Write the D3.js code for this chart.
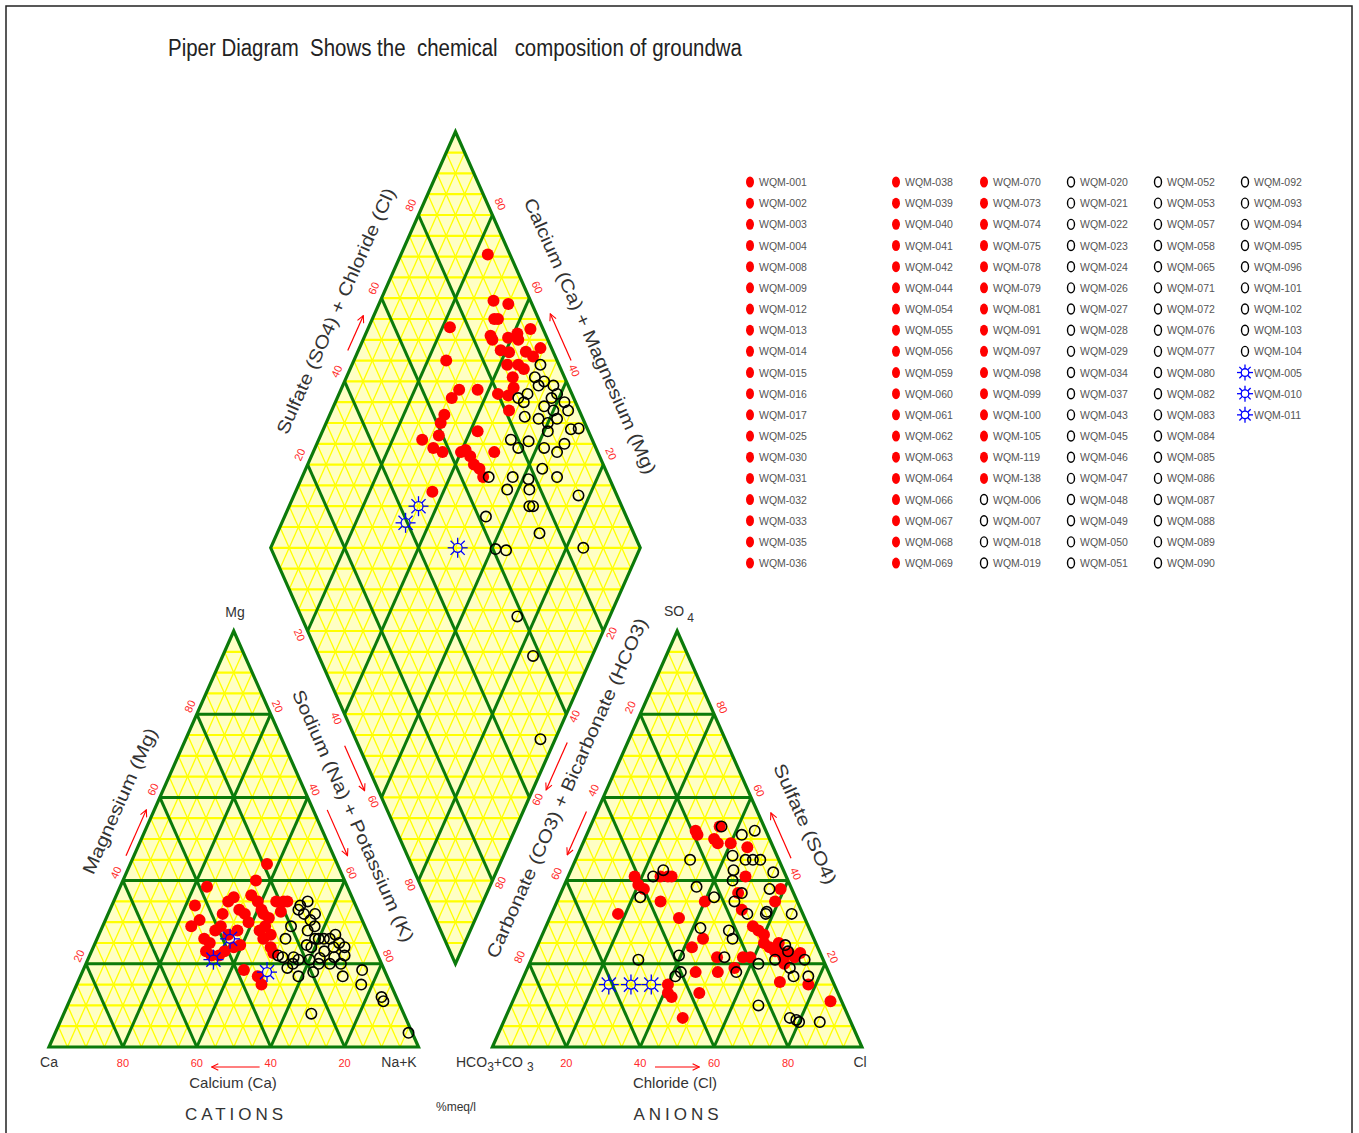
<!DOCTYPE html>
<html>
<head>
<meta charset="utf-8">
<script src="https://cdn.jsdelivr.net/npm/d3@7"></script>
<style>
  html, body { margin: 0; padding: 0; background: #fff; }
  svg { display: block; }
  text { font-family: "Liberation Sans", Arial, sans-serif; }
</style>
</head>
<body>
<svg id="chart" width="1359" height="1133"></svg>
<script>
// ---- tick values (percent) used on every ternary edge ----
const tickValues = [20, 40, 60, 80];

// ---- sample groups shown in the legend ----
const redIds = ["WQM-001","WQM-002","WQM-003","WQM-004","WQM-008","WQM-009","WQM-012","WQM-013","WQM-014","WQM-015","WQM-016","WQM-017","WQM-025","WQM-030","WQM-031","WQM-032","WQM-033","WQM-035","WQM-036","WQM-038","WQM-039","WQM-040","WQM-041","WQM-042","WQM-044","WQM-054","WQM-055","WQM-056","WQM-059","WQM-060","WQM-061","WQM-062","WQM-063","WQM-064","WQM-066","WQM-067","WQM-068","WQM-069","WQM-070","WQM-073","WQM-074","WQM-075","WQM-078","WQM-079","WQM-081","WQM-091","WQM-097","WQM-098","WQM-099","WQM-100","WQM-105","WQM-119","WQM-138"];
const openIds = ["WQM-006","WQM-007","WQM-018","WQM-019","WQM-020","WQM-021","WQM-022","WQM-023","WQM-024","WQM-026","WQM-027","WQM-028","WQM-029","WQM-034","WQM-037","WQM-043","WQM-045","WQM-046","WQM-047","WQM-048","WQM-049","WQM-050","WQM-051","WQM-052","WQM-053","WQM-057","WQM-058","WQM-065","WQM-071","WQM-072","WQM-076","WQM-077","WQM-080","WQM-082","WQM-083","WQM-084","WQM-085","WQM-086","WQM-087","WQM-088","WQM-089","WQM-090","WQM-092","WQM-093","WQM-094","WQM-095","WQM-096","WQM-101","WQM-102","WQM-103","WQM-104"];
const starIds = ["WQM-005","WQM-010","WQM-011"];

// ---- cation triangle: [Ca %, Mg %] (Na+K = remainder) ----
const redCation = [[19,44],[24,40],[38,38.5],[43.5,34],[34,35],[32,36],[37,32],[32,33],[27,36.5],[26,35],[26,33],[25,31],[21,35],[19,35],[18,35],[26,32],[47,29],[45,26],[44,25],[41,28],[39,29],[38,27],[35,28],[38,24],[41,23],[43,22],[46,23],[45,22],[29,28],[29,26],[26.5,27],[28,24],[28,22.6],[38,18.5],[35,17],[35,15],[31,32],[31,30],[21,32.5],[44,30.5],[27,29],[36,24.5]];
const openCation = [[12.5,35],[16,33],[15,32],[14,30.5],[13.6,29],[20,29],[23,26],[16,28],[15,26],[14,26],[12.6,26],[11,26],[11,24],[9,25],[8,24],[17,24],[27,22],[26,21.6],[23,21.6],[26,19],[22,21],[19,21],[19.5,18],[16,21.4],[12,21.6],[11,20],[12,17],[24,17],[6,18.5],[8,15],[4,12],[4,11],[25,8],[1,3.4],[15,34],[12,32],[14,23],[9,27],[9,22],[18,24.5],[24,20],[17,20],[14,20]];
const starCation = [[38,26],[45,21],[32,18]];

// ---- anion triangle: [Cl %, SO4 %] (HCO3+CO3 = remainder) ----
const redAnion = [[29,52],[30,51],[35,53],[35,50],[36.5,49],[40,49],[45,48],[18,41],[20,39],[22,38],[25,41],[27,41],[28,41],[28,35],[18,32],[35,31],[40,35],[48,41],[48,37],[51,33],[59,38],[59,35],[56,29],[58,28],[60,27],[61,25],[63,24],[65,23],[65,25],[67,22.6],[68,21.6],[69,20],[69,22.6],[71,21.6],[72,22.6],[50,21.6],[52,18],[56,19],[57,21.6],[59,21.6],[42,24],[44,26],[46,18],[49.5,13],[40,15],[41,13],[42.5,12],[48,7],[70,15.6],[78,15],[86,11]];
const openAnion = [[35.5,53],[42,51],[45,52],[42,46],[46,45],[48,45],[50,45],[31,45],[25,42.5],[23,41],[22,36],[36,38.5],[42,36],[45,40],[44,42.5],[49,37],[48,35],[55,42],[56,38],[65,32],[58,32.5],[58,32],[50,28],[52,26],[42,28.6],[39.5,22],[29,21],[42,18],[41,17],[52,21.6],[57,18],[62,20],[67,24.5],[68.5,23],[71,19],[73,17],[74,21],[77,17],[67,10],[77,7],[79,6.5],[80,6],[85.6,6],[66,21],[53,32]];
const starAnion = [[24,15],[30,15],[35.5,15]];

// ---- central diamond: [Na+K %, SO4+Cl %] ----
const redDiamond = [[23.5,94],[30.6,90],[35,93.6],[22,75],[33,88],[34,85],[35,85],[39,89.5],[41,92.5],[42,92],[44,96.6],[49,97],[48,94],[41,88],[42,86],[25,70],[45,89],[47,90],[32,70],[37,75],[31,67],[43,80],[46,82.6],[46.5,85],[45,86],[48,81],[31,63],[31,61],[42,70],[28,54],[32,59],[32,56],[35,58],[40,63],[43,65],[45,65],[47,66],[49,66],[49,72],[37,50.5],[34,89],[38.5,86],[45.5,92.6],[41,64.5]];
const openDiamond = [[51,95],[51,92],[54,94],[53,92],[57,96],[59,96],[51,88],[51,86],[49,85],[57,91],[58,94],[60,93],[62,97],[64,97],[53,84.5],[57,88],[60,90],[62,93],[61,89],[67,92],[67,95.5],[69,97.7],[66,89],[52,78],[57,82.6],[55,79],[62,86],[50.5,67.5],[57,74],[57,71],[61.5,78],[63,77],[64,83],[69,86],[65,75],[66,76],[77,89.6],[54.5,62],[71,74.5],[61,60.7],[64,63.4],[84.6,84.6],[75,58.5],[84,58],[96,50]];
const starDiamond = [[35,45],[33.5,39.5],[50.6,50.6]];

// ---------------------------------------------------------------
const svg = d3.select("#chart");

// One shared plane: X in triangle-side units, h in triangle-height units.
const X = d3.scaleLinear().domain([0, 2.2]).range([49, 861.9]);
const Y = d3.scaleLinear().domain([0, 2.2]).range([1047, 1047 - 2.2 * 416]);

const cat = (ca, mg) => { const nak = 100 - ca - mg; return [X((nak + mg / 2) / 100), Y(mg / 100)]; };
const ani = (cl, so4) => [X(1.2 + (cl + so4 / 2) / 100), Y(so4 / 100)];
const dia = (n, a) => [X(0.6 + (n + a) / 200), Y(1.2 + (a - n) / 100)];

const GREEN = "#0b7a0b";
const YELLOW = "#ffff00";
const line = d3.line();

// frame
svg.append("rect").attr("x", 6).attr("y", 6).attr("width", 1346).attr("height", 1150)
  .attr("fill", "none").attr("stroke", "#222").attr("stroke-width", 1.5);

// title
svg.append("text").attr("x", 168).attr("y", 56)
  .attr("font-family", "'Liberation Sans Narrow', 'Arial Narrow', 'Liberation Sans', sans-serif")
  .attr("font-size", 23).attr("fill", "#222").style("white-space", "pre")
  .attr("textLength", 574).attr("lengthAdjust", "spacingAndGlyphs")
  .text("Piper Diagram  Shows the  chemical   composition of groundwa");

// shapes
const catPoly = [cat(100, 0), cat(0, 0), cat(0, 100)];
const aniPoly = [ani(0, 0), ani(100, 0), ani(0, 100)];
const diaPoly = [dia(0, 0), dia(0, 100), dia(100, 100), dia(100, 0)];
const shapes = [catPoly, aniPoly, diaPoly];

const defs = svg.append("defs");
const clip = defs.append("clipPath").attr("id", "plot-area");
shapes.forEach(p => clip.append("polygon").attr("points", p.map(d => d.join(",")).join(" ")));

defs.append("marker").attr("id", "arrow-red").attr("viewBox", "0 0 10 10")
  .attr("refX", 9).attr("refY", 5).attr("markerWidth", 7).attr("markerHeight", 7)
  .attr("orient", "auto")
  .append("path").attr("d", "M1,1 L9,5 L1,9").attr("fill", "none")
  .attr("stroke", "#ff0000").attr("stroke-width", 1.3);

// background fill
svg.append("g").selectAll("polygon").data(shapes).join("polygon")
  .attr("points", p => p.map(d => d.join(",")).join(" "))
  .attr("fill", "#ffffc4");

// 5% lattice in yellow
const lattice = [];
for (let j = 0; j <= 44; j++) lattice.push({ w: 2.2, p: [[0, j / 20], [2.2, j / 20]] });
for (let k = -22; k <= 44; k++) lattice.push({ w: 1.3, p: [[k / 20, 0], [k / 20 + 1.1, 2.2]] });
for (let k = 0; k <= 66; k++) lattice.push({ w: 1.3, p: [[k / 20, 0], [k / 20 - 1.1, 2.2]] });
svg.append("g").attr("clip-path", "url(#plot-area)")
  .selectAll("path").data(lattice).join("path")
  .attr("d", d => line(d.p.map(([x, h]) => [X(x), Y(h)])))
  .attr("stroke", YELLOW).attr("stroke-width", d => d.w).attr("fill", "none");

// 20% grid in green
const green = [];
tickValues.forEach(v => {
  green.push([cat(100 - v, v), cat(0, v)]);
  green.push([cat(v, 0), cat(v, 100 - v)]);
  green.push([cat(100 - v, 0), cat(0, 100 - v)]);
  green.push([ani(0, v), ani(100 - v, v)]);
  green.push([ani(v, 0), ani(v, 100 - v)]);
  green.push([ani(100 - v, 0), ani(0, 100 - v)]);
  green.push([dia(v, 0), dia(v, 100)]);
  green.push([dia(0, v), dia(100, v)]);
});
const gGrid = svg.append("g");
gGrid.selectAll("path.g").data(green).join("path").attr("class", "g")
  .attr("d", d => line(d)).attr("stroke", GREEN).attr("stroke-width", 3).attr("fill", "none");
gGrid.selectAll("polygon").data(shapes).join("polygon")
  .attr("points", p => p.map(d => d.join(",")).join(" "))
  .attr("fill", "none").attr("stroke", GREEN).attr("stroke-width", 3.2).attr("stroke-linejoin", "miter");

// tick labels on every edge
const edges = [
  { at: v => cat(v, 0),           dx: 0,  dy: 16,  rot: 0 },
  { at: v => cat(100 - v, v),     dx: -7, dy: -8,  rot: -66 },
  { at: v => cat(0, 100 - v),     dx: 7,  dy: -8,  rot: 66 },
  { at: v => ani(v, 0),           dx: 0,  dy: 16,  rot: 0 },
  { at: v => ani(0, 100 - v),     dx: -10, dy: -7, rot: -66 },
  { at: v => ani(100 - v, v),     dx: 8,  dy: -7,  rot: 66 },
  { at: v => dia(0, v),           dx: -8, dy: -10, rot: -66 },
  { at: v => dia(100 - v, 100),   dx: 8,  dy: -11, rot: 66 },
  { at: v => dia(v, 0),           dx: -8, dy: 4,   rot: 66 },
  { at: v => dia(100, 100 - v),   dx: 8,  dy: 2,   rot: -66 }
];
const tickData = [];
edges.forEach(e => tickValues.forEach(v => {
  const [x, y] = e.at(v);
  tickData.push({ x: x + e.dx, y: y + e.dy, rot: e.rot, v });
}));
svg.append("g").selectAll("text").data(tickData).join("text")
  .attr("transform", d => `translate(${d.x},${d.y}) rotate(${d.rot})`)
  .attr("text-anchor", "middle").attr("dominant-baseline", "central")
  .attr("font-size", 11).attr("fill", "#ff2a2a").text(d => d.v);

// red direction arrows beside the edges
const arrows = [
  { a: cat(43, 0), b: cat(56, 0), dx: 0, dy: 20 },
  { a: ani(44, 0), b: ani(56, 0), dx: 0, dy: 20 },
  { a: cat(54, 46), b: cat(43, 57), dx: -8, dy: 0 },
  { a: cat(0, 57), b: cat(0, 46), dx: 14, dy: 0 },
  { a: dia(47.6, 0), b: dia(58.4, 0), dx: -14, dy: 0 },
  { a: dia(100, 53.2), b: dia(100, 41.8), dx: 13.5, dy: 0 },
  { a: ani(0, 56.6), b: ani(0, 46.2), dx: -10.5, dy: 0 },
  { a: ani(54.6, 45.4), b: ani(43.7, 56.3), dx: 13, dy: 0 },
  { a: dia(0, 47.4), b: dia(0, 55.8), dx: -10.5, dy: 0 },
  { a: dia(55, 100), b: dia(43.75, 100), dx: 14, dy: 0 }
];
svg.append("g").selectAll("path").data(arrows).join("path")
  .attr("d", d => line([[d.a[0] + d.dx, d.a[1] + d.dy], [d.b[0] + d.dx, d.b[1] + d.dy]]))
  .attr("stroke", "#ff0000").attr("stroke-width", 1.2).attr("fill", "none")
  .attr("marker-end", "url(#arrow-red)");

// axis titles along the edges
const titles = [
  { t: "Sulfate (SO4) + Chloride (Cl)", x: 336, y: 311, rot: -66, len: 267 },
  { t: "Calcium (Ca) + Magnesium (Mg)", x: 590, y: 336, rot: 66, len: 300 },
  { t: "Sodium (Na) + Potassium (K)", x: 353, y: 816, rot: 66, len: 274 },
  { t: "Carbonate (CO3) + Bicarbonate (HCO3)", x: 567, y: 788, rot: -66, len: 370 },
  { t: "Magnesium (Mg)", x: 120, y: 801, rot: -66, len: 158 },
  { t: "Sulfate (SO4)", x: 805, y: 824, rot: 66, len: 130 }
];
svg.append("g").selectAll("text").data(titles).join("text")
  .attr("transform", d => `translate(${d.x},${d.y}) rotate(${d.rot})`)
  .attr("text-anchor", "middle").attr("dominant-baseline", "central")
  .attr("font-size", 18).attr("fill", "#333")
  .attr("textLength", d => d.len).attr("lengthAdjust", "spacingAndGlyphs")
  .text(d => d.t);

const baseTitles = [
  { t: "Calcium (Ca)", x: 233, y: 1082 },
  { t: "Chloride (Cl)", x: 675, y: 1082 }
];
svg.append("g").selectAll("text").data(baseTitles).join("text")
  .attr("x", d => d.x).attr("y", d => d.y)
  .attr("text-anchor", "middle").attr("dominant-baseline", "central")
  .attr("font-size", 15).attr("fill", "#333").text(d => d.t);

// vertex labels
const vl = svg.append("g").attr("fill", "#333").attr("font-size", 14);
vl.append("text").attr("x", 49).attr("y", 1067).attr("text-anchor", "middle").text("Ca");
vl.append("text").attr("x", 399).attr("y", 1067).attr("text-anchor", "middle").text("Na+K");
vl.append("text").attr("x", 235).attr("y", 617).attr("text-anchor", "middle").text("Mg");
vl.append("text").attr("x", 860).attr("y", 1067).attr("text-anchor", "middle").text("Cl");
const so4 = vl.append("text").attr("x", 664).attr("y", 616);
so4.append("tspan").text("SO");
so4.append("tspan").attr("dy", 6).attr("dx", 3).attr("font-size", 12).text("4");
const hco = vl.append("text").attr("x", 456).attr("y", 1067);
hco.append("tspan").text("HCO");
hco.append("tspan").attr("dy", 4).attr("font-size", 12).text("3");
hco.append("tspan").attr("dy", -4).text("+CO ");
hco.append("tspan").attr("dy", 4).attr("font-size", 12).text("3");

svg.append("text").attr("x", 234).attr("y", 1120).attr("text-anchor", "middle")
  .attr("font-size", 17).attr("fill", "#333")
  .attr("textLength", 98).attr("lengthAdjust", "spacing").text("CATIONS");
svg.append("text").attr("x", 676).attr("y", 1120).attr("text-anchor", "middle")
  .attr("font-size", 17).attr("fill", "#333")
  .attr("textLength", 85).attr("lengthAdjust", "spacing").text("ANIONS");
svg.append("text").attr("x", 456).attr("y", 1111).attr("text-anchor", "middle")
  .attr("font-size", 12).attr("fill", "#333").text("%meq/l");

// ---- markers ----
function drawSun(g, x, y, r, R) {
  const s = g.append("g").attr("transform", `translate(${x},${y})`)
    .attr("stroke", "#0000ff").attr("stroke-width", 1.3).attr("fill", "none");
  s.append("circle").attr("r", r);
  d3.range(8).forEach(i => {
    const t = i * Math.PI / 4;
    s.append("line").attr("x1", r * Math.cos(t)).attr("y1", r * Math.sin(t))
      .attr("x2", R * Math.cos(t)).attr("y2", R * Math.sin(t));
  });
}

const pts = svg.append("g");
function filled(data, proj) {
  pts.append("g").selectAll("circle").data(data).join("circle")
    .attr("cx", d => proj(d[0], d[1])[0]).attr("cy", d => proj(d[0], d[1])[1])
    .attr("r", 6).attr("fill", "#ff0000");
}
function open(data, proj) {
  pts.append("g").selectAll("circle").data(data).join("circle")
    .attr("cx", d => proj(d[0], d[1])[0]).attr("cy", d => proj(d[0], d[1])[1])
    .attr("r", 5.2).attr("fill", "none").attr("stroke", "#000").attr("stroke-width", 1.6);
}
function stars(data, proj) {
  const g = pts.append("g");
  data.forEach(d => { const [x, y] = proj(d[0], d[1]); drawSun(g, x, y, 4.5, 10); });
}
filled(redCation, cat); filled(redAnion, ani); filled(redDiamond, dia);
open(openCation, cat); open(openAnion, ani); open(openDiamond, dia);
stars(starCation, cat); stars(starAnion, ani); stars(starDiamond, dia);

// ---- legend ----
const legendItems = [
  ...redIds.map(id => ({ id, kind: "red" })),
  ...openIds.map(id => ({ id, kind: "open" })),
  ...starIds.map(id => ({ id, kind: "star" }))
];
const legendColX = [750, 896, 984, 1071, 1158, 1245];
const rowsPerCol = 19;
const lg = svg.append("g");
legendItems.forEach((d, i) => {
  const x = legendColX[Math.floor(i / rowsPerCol)];
  const y = 182 + (i % rowsPerCol) * 21.17;
  if (d.kind === "red") {
    lg.append("ellipse").attr("cx", x).attr("cy", y).attr("rx", 4).attr("ry", 5.5).attr("fill", "#ff0000");
  } else if (d.kind === "open") {
    lg.append("ellipse").attr("cx", x).attr("cy", y).attr("rx", 3.5).attr("ry", 5)
      .attr("fill", "none").attr("stroke", "#000").attr("stroke-width", 1.4);
  } else {
    drawSun(lg, x, y, 3.8, 8);
  }
  lg.append("text").attr("x", x + 9).attr("y", y + 4)
    .attr("font-size", 10.5).attr("fill", "#555").text(d.id);
});
</script>
</body>
</html>
